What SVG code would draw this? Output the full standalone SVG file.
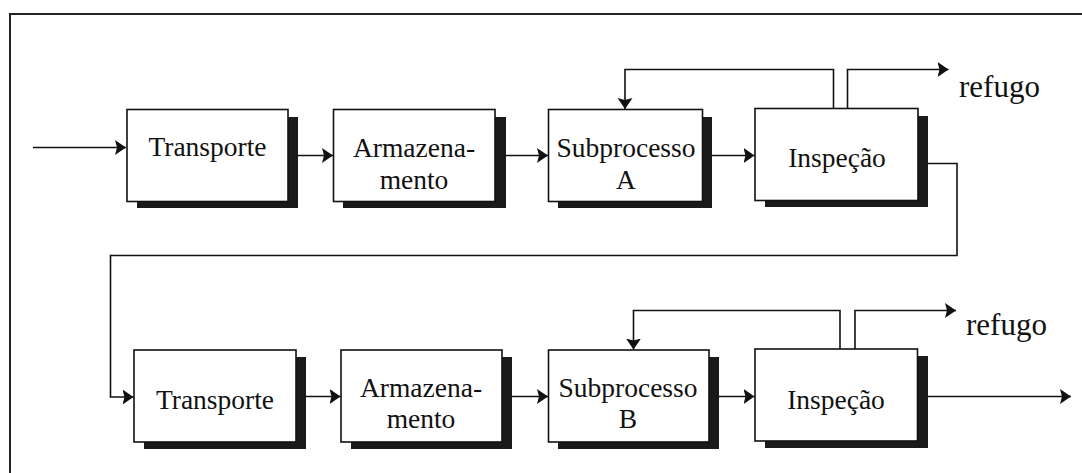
<svg xmlns="http://www.w3.org/2000/svg" width="1082" height="473" viewBox="0 0 1082 473">
<style>
.box{fill:#fff;stroke:#111;stroke-width:1.6}
.sh{fill:#1a1a1a}
.t{font-family:"Liberation Serif","Times New Roman",serif;font-size:27.5px;fill:#111;text-anchor:middle}
.r{font-family:"Liberation Serif","Times New Roman",serif;font-size:31px;fill:#111}
.c{fill:none;stroke:#111;stroke-width:1.6}
.frame{fill:none;stroke:#222;stroke-width:2}
</style>
<defs>
<marker id="ah" markerUnits="userSpaceOnUse" markerWidth="12" markerHeight="16" refX="11" refY="7.5" orient="auto">
<path d="M0,0 L11,7.5 L0,15 L2,7.5 z" fill="#111"/>
</marker>
</defs>
<rect width="1082" height="473" fill="#fff"/>
<path class="frame" d="M10,473 V14 H1082"/>

<g id="transporte1">
<rect class="sh" x="137" y="117" width="161" height="91"/>
<rect class="box" x="127" y="109.5" width="161" height="92"/>
<text class="t" x="207.5" y="156">Transporte</text>
</g>
<g id="armazenamento1">
<rect class="sh" x="343" y="117" width="163" height="91"/>
<rect class="box" x="333.5" y="109.5" width="161.5" height="92"/>
<text class="t" x="414" y="156.5">Armazena-</text>
<text class="t" x="414" y="188.5">mento</text>
</g>
<g id="subprocessoA">
<rect class="sh" x="558" y="117" width="154" height="91"/>
<rect class="box" x="548.5" y="109.5" width="154" height="92"/>
<text class="t" x="626" y="156.5">Subprocesso</text>
<text class="t" x="626" y="188.5">A</text>
</g>
<g id="inspecao1">
<rect class="sh" x="765" y="116" width="163" height="91"/>
<rect class="box" x="755" y="108.5" width="163" height="92"/>
<text class="t" x="837" y="167">Inspeção</text>
</g>
<g id="refugo1">
<text class="r" x="959" y="96.5">refugo</text>
</g>

<g id="transporte2">
<rect class="sh" x="144" y="357" width="162" height="92"/>
<rect class="box" x="134" y="350" width="162" height="92"/>
<text class="t" x="215" y="409">Transporte</text>
</g>
<g id="armazenamento2">
<rect class="sh" x="351" y="357" width="161" height="92"/>
<rect class="box" x="341" y="350" width="161" height="92"/>
<text class="t" x="421" y="396.5">Armazena-</text>
<text class="t" x="421" y="428">mento</text>
</g>
<g id="subprocessoB">
<rect class="sh" x="558" y="357" width="161" height="92"/>
<rect class="box" x="548.5" y="350" width="160.5" height="92"/>
<text class="t" x="628" y="396.5">Subprocesso</text>
<text class="t" x="628" y="428">B</text>
</g>
<g id="inspecao2">
<rect class="sh" x="765" y="356" width="163" height="92"/>
<rect class="box" x="755" y="349" width="162.5" height="92"/>
<text class="t" x="836" y="408.5">Inspeção</text>
</g>
<g id="refugo2">
<text class="r" x="966" y="334.5">refugo</text>
</g>

<g id="connectors">
<path class="c" d="M33,147.5 H126" marker-end="url(#ah)"/>
<path class="c" d="M298,155.5 H333" marker-end="url(#ah)"/>
<path class="c" d="M506,155.5 H548" marker-end="url(#ah)"/>
<path class="c" d="M712,155.5 H754.5" marker-end="url(#ah)"/>
<path class="c" d="M833.5,108.5 V69.5 H625 V109" marker-end="url(#ah)"/>
<path class="c" d="M847.5,108.5 V69.5 H948.5" marker-end="url(#ah)"/>
<path class="c" d="M928,163.5 H957 V255.5 H110.5 V397 H133.5" marker-end="url(#ah)"/>
<path class="c" d="M306,396.5 H340.5" marker-end="url(#ah)"/>
<path class="c" d="M512,396.5 H548" marker-end="url(#ah)"/>
<path class="c" d="M719,396.5 H754.5" marker-end="url(#ah)"/>
<path class="c" d="M928,396.5 H1071" marker-end="url(#ah)"/>
<path class="c" d="M840,349 V310.5 H633.5 V349.5" marker-end="url(#ah)"/>
<path class="c" d="M855,349 V310.5 H956" marker-end="url(#ah)"/>
</g>
</svg>
